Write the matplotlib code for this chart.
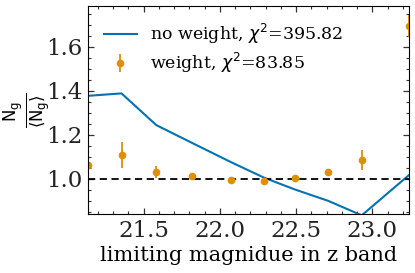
import matplotlib
matplotlib.use("Agg")
import matplotlib.pyplot as plt
from matplotlib.ticker import MultipleLocator

# limiting magnitude bins (z band)
mag = [21.135, 21.355, 21.583, 21.815, 22.075, 22.29, 22.49, 22.71, 22.93, 23.24]

# normalised counts without weights
ratio_noweight = [1.377, 1.388, 1.244, 1.164, 1.075, 1.005, 0.952, 0.900, 0.834, 1.017]

# normalised counts with weights + errors
ratio_weight = [1.065, 1.108, 1.032, 1.011, 0.995, 0.991, 1.003, 1.030, 1.085, 1.695]
err_weight = [0.10, 0.059, 0.028, 0.010, 0.008, 0.008, 0.008, 0.010, 0.045, 0.05]

chi2_noweight = 395.82
chi2_weight = 83.85

plt.rcParams['font.family'] = 'DejaVu Serif'
plt.rcParams['mathtext.fontset'] = 'dejavusans'

fig = plt.figure(figsize=(4.15, 2.73), dpi=100)
ax = fig.add_axes([0.212, 0.216, 0.7735, 0.762])

ax.plot(mag, ratio_noweight, color='#0173b2', lw=1.5,
        label=r'no weight, $\chi^2$=%.2f' % chi2_noweight)
ax.errorbar(mag, ratio_weight, yerr=err_weight, fmt='o', color='#de8f05',
            ms=4.5, elinewidth=1.3, capsize=0,
            label=r'weight, $\chi^2$=%.2f' % chi2_weight)
ax.axhline(1.0, color='k', ls='--', lw=1.3, dashes=(4, 2.5))

ax.set_xlim(mag[0], mag[-1])
ax.set_ylim(0.84, 1.785)
ax.xaxis.set_major_locator(MultipleLocator(0.5))
ax.xaxis.set_minor_locator(MultipleLocator(0.1))
ax.yaxis.set_major_locator(MultipleLocator(0.2))
ax.yaxis.set_minor_locator(MultipleLocator(0.05))
ax.tick_params(which='both', direction='in', top=True, right=True,
               color='#333333', labelsize=16.5, labelcolor='#222222')
ax.tick_params(which='major', length=4, width=0.9, pad=4)
ax.tick_params(which='minor', length=2.2, width=0.8)

ax.set_xlabel('limiting magnidue in z band', fontsize=15, labelpad=3)
ax.set_ylabel(r'$\frac{\mathrm{N_g}}{\langle \mathrm{N_g} \rangle}$', fontsize=17,
              va='center')
ax.yaxis.set_label_coords(-0.19, 0.5)

ax.legend(loc='upper left', frameon=False, fontsize=12.5,
          handlelength=1.9, borderaxespad=0.5, labelspacing=0.3)

fig.savefig('out.png', dpi=100)
